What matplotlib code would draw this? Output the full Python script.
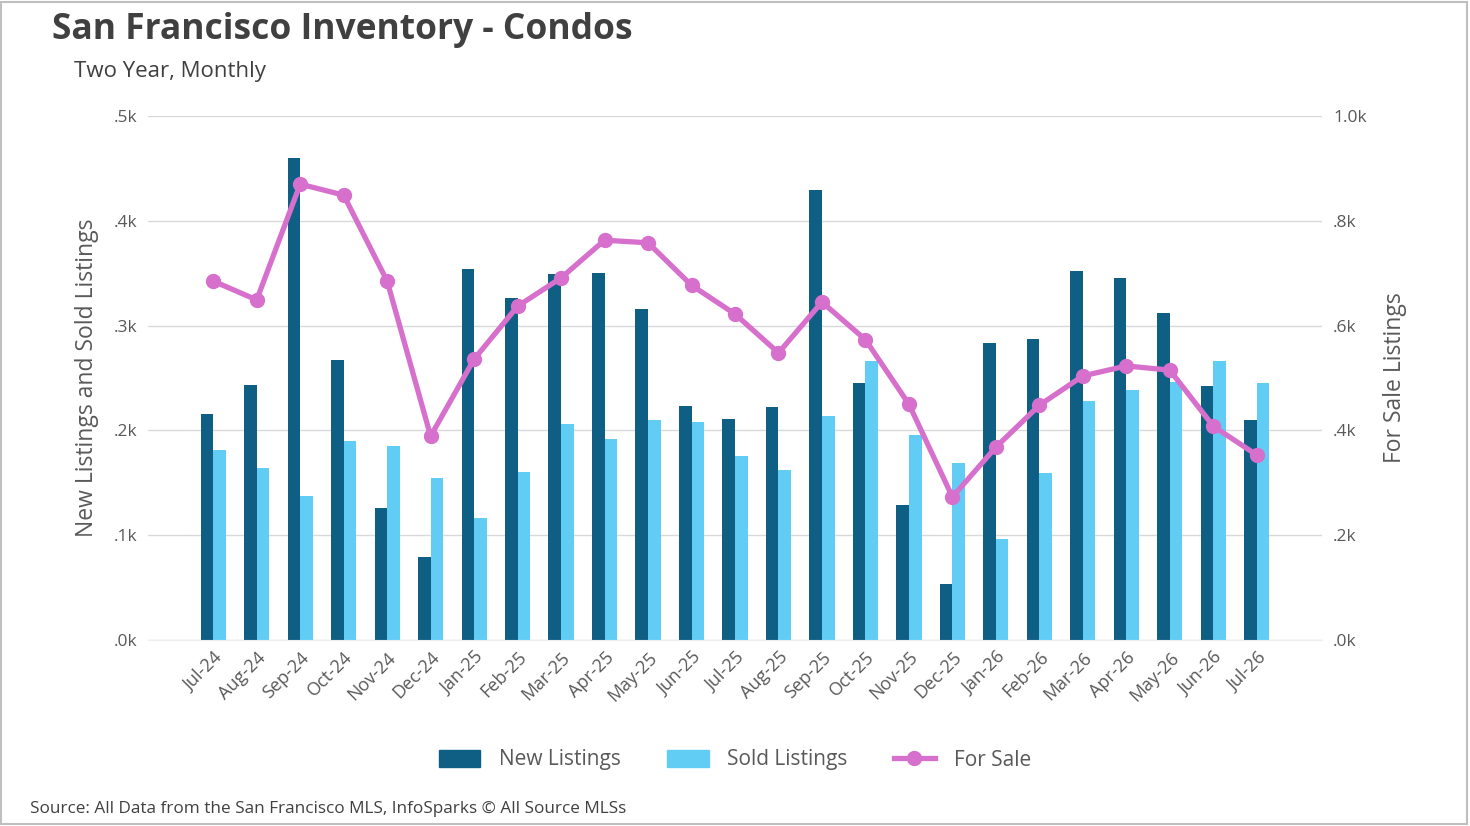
import matplotlib
matplotlib.use("Agg")
import matplotlib.pyplot as plt
from matplotlib.patches import Rectangle
from matplotlib.lines import Line2D
from matplotlib.patches import Patch
import numpy as np

months = ["Jul-24", "Aug-24", "Sep-24", "Oct-24", "Nov-24", "Dec-24", "Jan-25", "Feb-25",
          "Mar-25", "Apr-25", "May-25", "Jun-25", "Jul-25", "Aug-25", "Sep-25", "Oct-25",
          "Nov-25", "Dec-25", "Jan-26", "Feb-26", "Mar-26", "Apr-26", "May-26", "Jun-26", "Jul-26"]
new_listings = [216, 243, 460, 267, 126, 79, 354, 326, 349, 350, 316, 223, 211, 222, 429,
                245, 129, 53, 283, 287, 352, 345, 312, 242, 210]
sold_listings = [181, 164, 137, 190, 185, 155, 116, 160, 206, 192, 210, 208, 176, 162, 214,
                 266, 196, 169, 96, 159, 228, 239, 246, 266, 245]
for_sale = [685, 649, 870, 849, 685, 389, 536, 637, 691, 763, 758, 677, 622, 548, 645,
            573, 450, 273, 368, 448, 504, 523, 515, 408, 353]
left_ticks = [0, 100, 200, 300, 400, 500]
left_labels = [".0k", ".1k", ".2k", ".3k", ".4k", ".5k"]
right_ticks = [0, 200, 400, 600, 800, 1000]
right_labels = [".0k", ".2k", ".4k", ".6k", ".8k", "1.0k"]

DARK = "#0F5F85"
LIGHT = "#61CDF5"
LINE = "#D670CC"
TXT = "#595959"
FONT = ["Open Sans", "DejaVu Sans"]
plt.rcParams["font.family"] = FONT

fig = plt.figure(figsize=(14.7, 8.26), dpi=100)
fig.patches.append(Rectangle((0.001, 0.002), 0.997, 0.996, transform=fig.transFigure,
                             fill=False, edgecolor="#BFBFBF", linewidth=1.5))

ax = fig.add_axes([148/1470, 1-640/826, (1322-148)/1470, (640-116)/826])
x = np.arange(len(months))
w = 0.29
ax.bar(x - w/2, new_listings, width=w, color=DARK, zorder=2)
ax.bar(x + w/2, sold_listings, width=w, color=LIGHT, zorder=2)
ax.set_xlim(-1.5, 25.5)
ax.set_ylim(0, 500)
ax.set_yticks(left_ticks)
ax.set_yticklabels(left_labels)
ax.grid(axis="y", color="#D9D9D9", linewidth=1, zorder=0)
ax.set_axisbelow(True)
for s in ["top", "right", "left"]:
    ax.spines[s].set_visible(False)
ax.spines["bottom"].set_color("#EEEEEE")
ax.tick_params(axis="y", length=0, pad=8, labelsize=12.5, labelcolor=TXT)
ax.tick_params(axis="x", length=0, pad=6, labelsize=13, labelcolor=TXT)
ax.set_xticks(x)
ax.set_xticklabels(months, rotation=45, ha="right", rotation_mode="anchor")
ax.set_ylabel("New Listings and Sold Listings", fontsize=16.5, color=TXT, labelpad=10)

ax2 = ax.twinx()
ax2.plot(x, for_sale, color=LINE, linewidth=3.8, marker="o", markersize=10, zorder=3)
ax2.set_ylim(0, 1000)
ax2.set_yticks(right_ticks)
ax2.set_yticklabels(right_labels)
for s in ["top", "right", "left", "bottom"]:
    ax2.spines[s].set_visible(False)
ax2.tick_params(axis="y", length=0, pad=8, labelsize=12.5, labelcolor=TXT)
ax2.set_ylabel("For Sale Listings", fontsize=16.5, color=TXT, labelpad=12)

fig.text(52/1470, 1-30/826, "San Francisco Inventory - Condos", fontsize=25.5, fontweight="bold",
         color="#404040", va="center", ha="left")
fig.text(74/1470, 1-72/826, "Two Year, Monthly", fontsize=16, color="#404040", va="center", ha="left")
fig.text(30/1470, 1-809/826, "Source: All Data from the San Francisco MLS, InfoSparks \u00a9 All Source MLSs",
         fontsize=12.3, color="#404040", va="center", ha="left")

handles = [Patch(color=DARK), Patch(color=LIGHT),
           Line2D([0], [0], color=LINE, linewidth=3.8, marker="o", markersize=10)]
fig.legend(handles, ["New Listings", "Sold Listings", "For Sale"], loc="center",
           bbox_to_anchor=(735/1470, 1-760/826), ncol=3, frameon=False, fontsize=15,
           labelcolor=TXT, handlelength=2.0, handleheight=0.9, columnspacing=2.2, handletextpad=0.9)

fig.savefig("out.png", dpi=100)
